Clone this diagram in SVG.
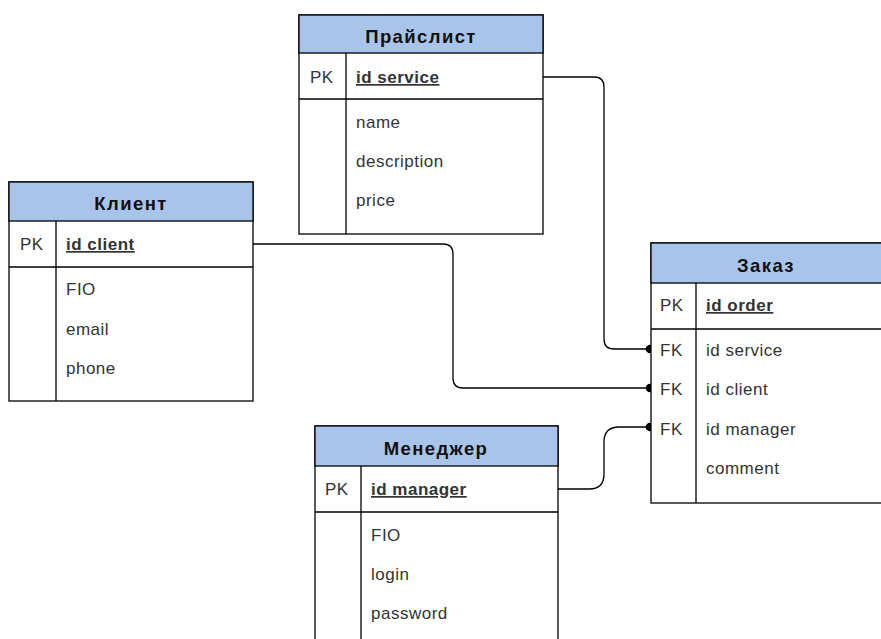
<svg xmlns="http://www.w3.org/2000/svg" width="881" height="639" viewBox="0 0 881 639">
<style>
.box{fill:#fff;stroke:#000;stroke-width:1.3}
.hdr{fill:#a9c4eb;stroke:#000;stroke-width:1.3}
.ln{stroke:#000;stroke-width:1.3;fill:none}
.h{font-family:"Liberation Sans",Arial,sans-serif;font-size:18.5px;font-weight:bold;fill:#111;text-anchor:middle;letter-spacing:1.4px}
.t{font-family:"Liberation Sans",Arial,sans-serif;font-size:17px;fill:#333;letter-spacing:0.5px}
.pk{text-decoration:underline;font-weight:bold}
.con{stroke:#000;stroke-width:1.3;fill:none}
</style>
<defs>
<marker id="dot" markerWidth="10" markerHeight="10" refX="5" refY="5" markerUnits="userSpaceOnUse">
<circle cx="5" cy="5" r="4.3" fill="#000"/>
</marker>
</defs>
<g id="connectors">
<path class="con" d="M543 77 H594 Q604 77 604 87 V339 Q604 349 614 349 H650" marker-end="url(#dot)"/>
<path class="con" d="M253 244 H443 Q453 244 453 254 V378 Q453 388 463 388 H650" marker-end="url(#dot)"/>
<path class="con" d="M558 489 H589 Q604 489 604 474 V442 Q604 427 619 427 H650" marker-end="url(#dot)"/>
</g>
<g id="pricelist">
<rect class="box" x="299" y="15" width="244" height="219"/>
<rect class="hdr" x="299" y="15" width="244" height="38"/>
<line class="ln" x1="299" y1="99" x2="543" y2="99"/>
<line class="ln" x1="346" y1="53" x2="346" y2="234"/>
<text class="h" x="421" y="43">Прайслист</text>
<text class="t" x="310" y="83">PK</text>
<text class="t pk" x="356" y="83">id service</text>
<text class="t" x="356" y="128">name</text>
<text class="t" x="356" y="167">description</text>
<text class="t" x="356" y="206">price</text>
</g>
<g id="client">
<rect class="box" x="9" y="182" width="244" height="219"/>
<rect class="hdr" x="9" y="182" width="244" height="39"/>
<line class="ln" x1="9" y1="267" x2="253" y2="267"/>
<line class="ln" x1="56" y1="221" x2="56" y2="401"/>
<text class="h" x="131" y="210">Клиент</text>
<text class="t" x="20" y="250">PK</text>
<text class="t pk" x="66" y="250">id client</text>
<text class="t" x="66" y="295">FIO</text>
<text class="t" x="66" y="335">email</text>
<text class="t" x="66" y="374">phone</text>
</g>
<g id="order">
<rect class="box" x="651" y="243" width="240" height="260"/>
<rect class="hdr" x="651" y="243" width="240" height="40"/>
<line class="ln" x1="651" y1="329" x2="891" y2="329"/>
<line class="ln" x1="696" y1="283" x2="696" y2="503"/>
<text class="h" x="766" y="272">Заказ</text>
<text class="t" x="660" y="311">PK</text>
<text class="t pk" x="706" y="311">id order</text>
<text class="t" x="660" y="356">FK</text>
<text class="t" x="706" y="356">id service</text>
<text class="t" x="660" y="395">FK</text>
<text class="t" x="706" y="395">id client</text>
<text class="t" x="660" y="435">FK</text>
<text class="t" x="706" y="435">id manager</text>
<text class="t" x="706" y="474">comment</text>
</g>
<g id="manager">
<rect class="box" x="315" y="426" width="243" height="230"/>
<rect class="hdr" x="315" y="426" width="243" height="40"/>
<line class="ln" x1="315" y1="512" x2="558" y2="512"/>
<line class="ln" x1="361" y1="466" x2="361" y2="656"/>
<text class="h" x="436" y="455">Менеджер</text>
<text class="t" x="325" y="495">PK</text>
<text class="t pk" x="371" y="495">id manager</text>
<text class="t" x="371" y="541">FIO</text>
<text class="t" x="371" y="580">login</text>
<text class="t" x="371" y="619">password</text>
</g>
</svg>
